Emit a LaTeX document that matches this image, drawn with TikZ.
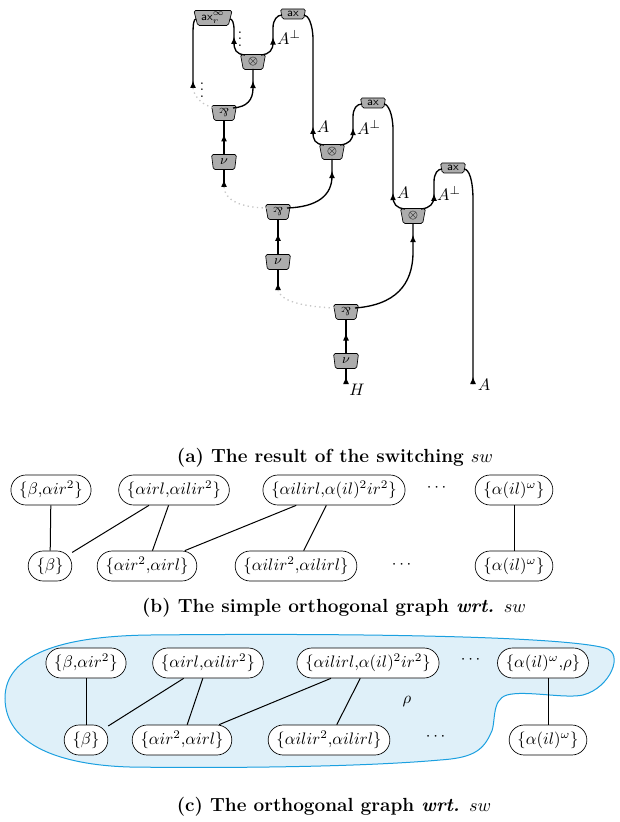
\documentclass[tikz,border=0pt]{standalone}
\usepackage{amsmath,amssymb}
\usepackage{graphicx}
\usetikzlibrary{shapes.geometric, arrows.meta, calc, decorations.markings}
\definecolor{regionfill}{RGB}{223,240,249}
\definecolor{regionline}{RGB}{27,160,224}
\definecolor{gatefill}{RGB}{172,172,172}
\newcommand{\parr}{\rotatebox[origin=c]{180}{$\&$}}
\tikzset{
    gate/.style={
        trapezium, trapezium angle=72, trapezium stretches body,
        shape border rotate=180, draw, fill=gatefill, rounded corners=1pt,
        inner sep=0pt, minimum width=15pt, minimum height=9pt, font=\scriptsize
    },
    axgate/.style={gate, minimum height=6pt},
    wire/.style={thick},
    tipat/.style={postaction={decorate}, decoration={markings,
        mark=at position #1 with {\arrow{Latex[length=4.5pt,width=3.6pt]}}}},
    switched/.style={thick, dotted, gray!45},
    lbl/.style={inner sep=1pt},
    setbox/.style={draw, rounded corners=9pt, minimum height=18pt,
        inner xsep=5pt, inner ysep=0pt, fill=white},
    link/.style={semithick},
    region/.style={draw=regionline, fill=regionfill, line width=0.6pt},
    caption/.style={font=\fontsize{11.4}{13}\selectfont\bfseries},
}

\begin{document}
\begin{tikzpicture}[x=0.6pt, y=-0.6pt]
    \useasboundingbox (0,0) rectangle (619,822);

    % (a) the switching
    \node[gate, minimum width=23pt] (axr) at (213,18) {\textsf{ax}$_r^\infty$};
    \node[axgate] (ax1) at (293,14) {\textsf{ax}};
    \node[axgate] (ax2) at (373,103) {\textsf{ax}};
    \node[axgate] (ax3) at (453,168) {\textsf{ax}};
    \node[gate] (t1) at (253,62) {$\otimes$};
    \node[gate] (t2) at (332,152) {$\otimes$};
    \node[gate] (t3) at (413,216) {$\otimes$};
    \node[gate] (p1) at (224,113) {\parr};
    \node[gate] (p2) at (278,212) {\parr};
    \node[gate] (p3) at (346,312) {\parr};
    \node[gate, font=\footnotesize] (n1) at (224,162) {$\nu$};
    \node[gate, font=\footnotesize] (n2) at (278,262) {$\nu$};
    \node[gate, font=\footnotesize] (n3) at (346,361) {$\nu$};

    \coordinate (e0) at (193,88);
    \coordinate (e1) at (224,187);
    \coordinate (e2) at (278,290);
    \coordinate (e3) at (346,384);
    \coordinate (e4) at (473,384);

    \draw[wire, tipat=4.5pt] (e0) -- (193,34) .. controls (193,23) and (194,19) .. ($(axr)+(-17,1)$);
    \draw[wire, tipat=15pt] ($(t1)+(-8,-7)$) .. controls (236,54) and (234,50) .. (234,42)
        -- (234,30) .. controls (234,22) and (232,19) .. ($(axr)+(17,1)$);
    \draw[wire, tipat=15pt] ($(t1)+(8,-7)$) .. controls (270,54) and (273,50) .. (273,42)
        -- (273,28) .. controls (273,20) and (277,15) .. ($(ax1)+(-11,1)$);
    \draw[wire, tipat=15pt] ($(t2)+(-8,-7)$) .. controls (315,144) and (313,140) .. (313,132)
        -- (313,40) .. controls (313,24) and (308,15) .. ($(ax1)+(11,1)$);
    \draw[wire, tipat=15pt] ($(t2)+(8,-7)$) .. controls (349,144) and (353,140) .. (353,132)
        -- (353,117) .. controls (353,108) and (357,104) .. ($(ax2)+(-11,1)$);
    \draw[wire, tipat=14pt] ($(t3)+(-8,-7)$) .. controls (396,208) and (393,204) .. (393,196)
        -- (393,130) .. controls (393,114) and (388,104) .. ($(ax2)+(11,1)$);
    \draw[wire, tipat=14pt] ($(t3)+(8,-7)$) .. controls (430,208) and (434,204) .. (434,196)
        -- (434,182) .. controls (434,173) and (438,169) .. ($(ax3)+(-11,1)$);
    \draw[wire, tipat=4.5pt] (e4) -- (473,200) .. controls (473,180) and (469,169) .. ($(ax3)+(11,1)$);

    \draw[wire, tipat=-7pt] ($(p1)+(9,-5)$) .. controls (247,107) and (253,100) .. (253,88) -- ($(t1)+(0,7)$);
    \draw[wire, tipat=-7pt] ($(p2)+(9,-4)$) .. controls (318,207) and (332,195) .. (332,176) -- ($(t2)+(0,7)$);
    \draw[wire, tipat=-7pt] ($(p3)+(9,-4)$) .. controls (395,305) and (413,285) .. (413,252) -- ($(t3)+(0,7)$);

    \draw[wire, tipat=0.6] ($(n1)+(0,-7)$) -- ($(p1)+(0,7)$);
    \draw[wire, tipat=0.6] ($(n2)+(0,-7)$) -- ($(p2)+(0,7)$);
    \draw[wire, tipat=0.6] ($(n3)+(0,-7)$) -- ($(p3)+(0,7)$);
    \draw[wire, tipat=4.5pt] (e1) -- ($(n1)+(0,7)$);
    \draw[wire, tipat=4.5pt] (e2) -- ($(n2)+(0,7)$);
    \draw[wire, tipat=4.5pt] (e3) -- ($(n3)+(0,7)$);

    \draw[switched] (e0) .. controls (194,97) and (203,106) .. ($(p1)+(-9,-5)$);
    \draw[switched] (e1) .. controls (225,200) and (240,208) .. ($(p2)+(-9,-4)$);
    \draw[switched] (e2) .. controls (280,300) and (300,307) .. ($(p3)+(-9,-4)$);

    \node[lbl] (lab1) at (289,37) {$A^{\perp}$};
    \node[lbl] (lab2) at (323,127) {$A$};
    \node[lbl] (lab3) at (369,127) {$A^{\perp}$};
    \node[lbl] (lab4) at (403,193) {$A$};
    \node[lbl] (lab5) at (449,193) {$A^{\perp}$};
    \node[lbl] (lab6) at (484,385) {$A$};
    \node[lbl] (lab7) at (357,390) {$H$};
    \node[inner sep=0pt, font=\small] (vd1) at (240,34) {$\vdots$};
    \node[inner sep=0pt, font=\small] (vd2) at (202,85) {$\vdots$};

    \node[caption] (capa) at (335,458) {(a) The result of the switching $sw$};

    % (b) simple orthogonal graph
    \node[setbox] (b1) at (51,490) {$\{\beta{,}\alpha ir^2\}$};
    \node[setbox] (b2) at (174,490) {$\{\alpha irl{,}\alpha ilir^2\}$};
    \node[setbox] (b3) at (334,490) {$\{\alpha ilirl{,}\alpha(il)^2ir^2\}$};
    \node (bd1) at (438,488) {$\cdots$};
    \node[setbox] (b4) at (514,490) {$\{\alpha(il)^\omega\}$};
    \node[setbox] (b5) at (50,566) {$\{\beta\}$};
    \node[setbox] (b6) at (147,566) {$\{\alpha ir^2{,}\alpha irl\}$};
    \node[setbox] (b7) at (296,566) {$\{\alpha ilir^2{,}\alpha ilirl\}$};
    \node (bd2) at (403,565) {$\cdots$};
    \node[setbox] (b8) at (514,566) {$\{\alpha(il)^\omega\}$};

    \draw[link] (b1) -- (b5);
    \draw[link] (b2) -- (b5);
    \draw[link] (b2) -- (b6);
    \draw[link] (b3) -- (b6);
    \draw[link] (b3) -- (b7);
    \draw[link] (b4) -- (b8);

    \node[caption] (capb) at (334,608) {(b) The simple orthogonal graph \textit{wrt.} $sw$};

    % (c) orthogonal graph
    \draw[region] (5,698) .. controls (5,655) and (60,636) .. (150,635)
        .. controls (350,633) and (560,636) .. (605,648)
        .. controls (625,653) and (610,688) .. (583,695)
        .. controls (565,699) and (525,690) .. (507,695)
        .. controls (490,700) and (497,725) .. (490,735)
        .. controls (482,752) and (470,758) .. (440,760)
        .. controls (350,768) and (200,768) .. (130,767)
        .. controls (60,765) and (5,745) .. (5,698) -- cycle;

    \node[setbox] (c1) at (86,663) {$\{\beta{,}\alpha ir^2\}$};
    \node[setbox] (c2) at (208,663) {$\{\alpha irl{,}\alpha ilir^2\}$};
    \node[setbox] (c3) at (368,663) {$\{\alpha ilirl{,}\alpha(il)^2ir^2\}$};
    \node (cd1) at (472,660) {$\cdots$};
    \node[setbox] (c4) at (543,663) {$\{\alpha(il)^\omega{,}\rho\}$};
    \node[setbox] (c5) at (86,740) {$\{\beta\}$};
    \node[setbox] (c6) at (182,740) {$\{\alpha ir^2{,}\alpha irl\}$};
    \node[setbox] (c7) at (329,740) {$\{\alpha ilir^2{,}\alpha ilirl\}$};
    \node (cd2) at (437,737) {$\cdots$};
    \node[setbox] (c8) at (548,740) {$\{\alpha(il)^\omega\}$};
    \node (rho) at (407,702) {$\rho$};

    \draw[link] (c1) -- (c5);
    \draw[link] (c2) -- (c5);
    \draw[link] (c2) -- (c6);
    \draw[link] (c3) -- (c6);
    \draw[link] (c3) -- (c7);
    \draw[link] (c8) -- (c8 |- c4.south);

    \node[caption] (capc) at (334,807) {(c) The orthogonal graph \textit{wrt.} $sw$};
\end{tikzpicture}
\end{document}
